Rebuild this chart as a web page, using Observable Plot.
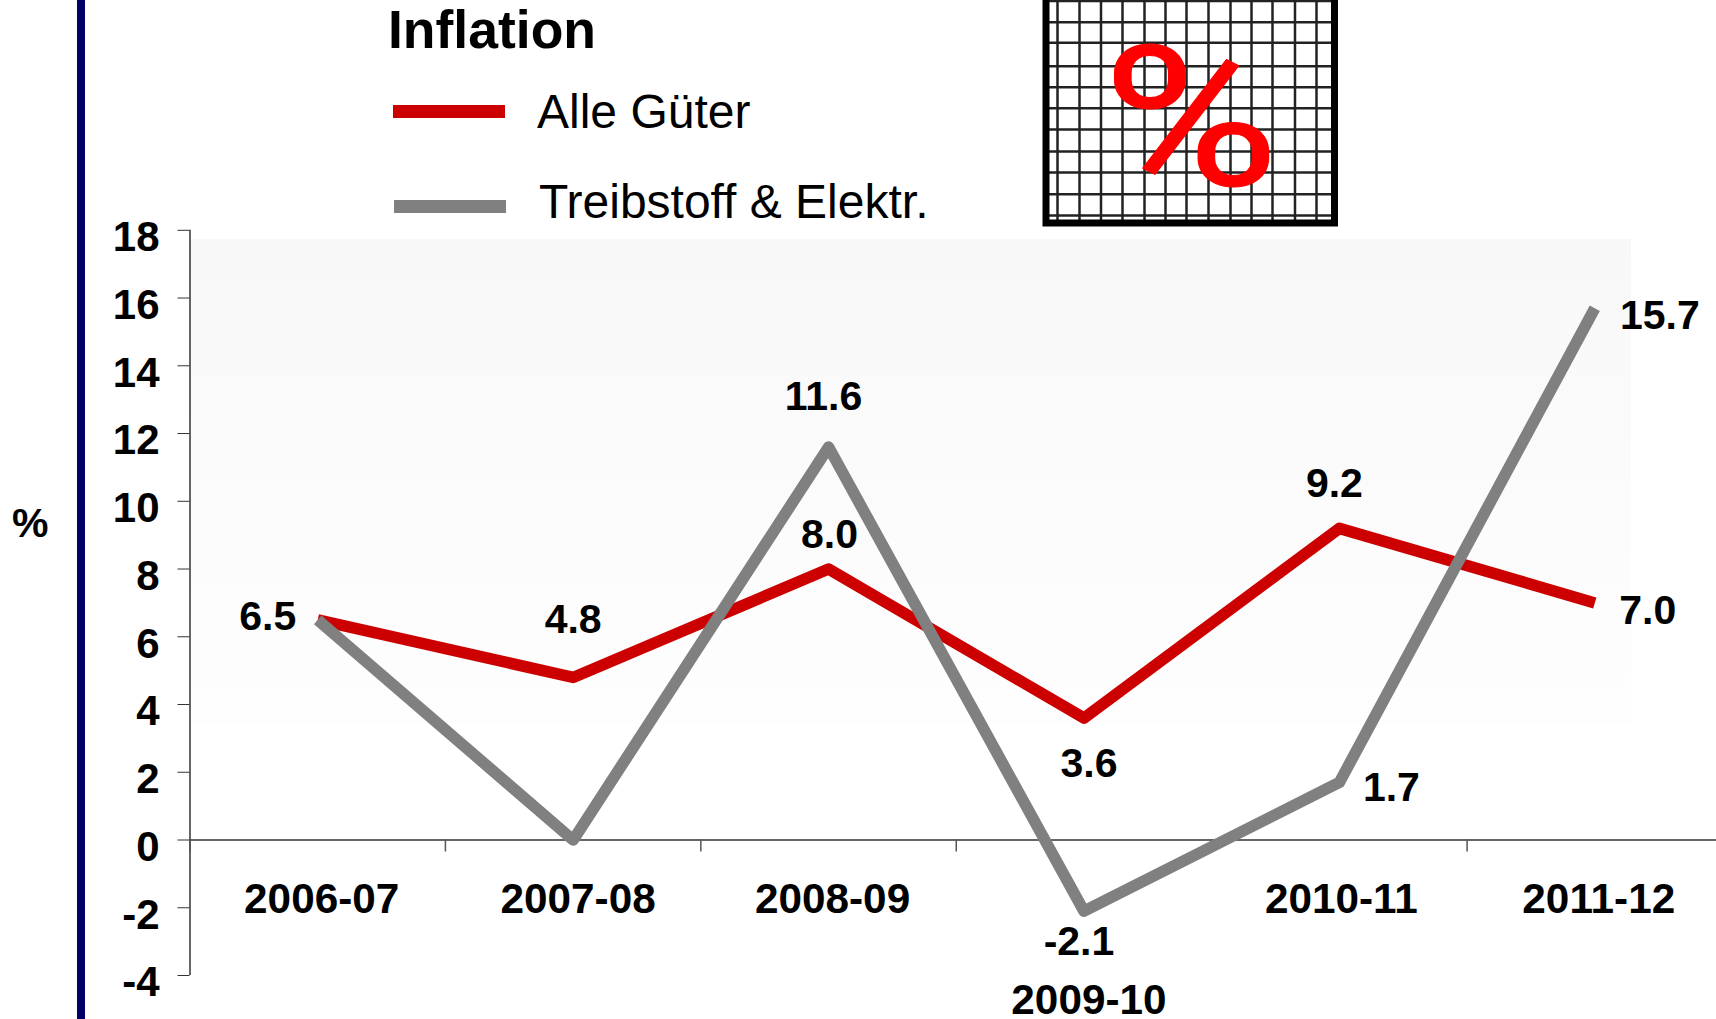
<!DOCTYPE html>
<html lang="de">
<head>
<meta charset="utf-8">
<script src="https://cdn.jsdelivr.net/npm/d3@7"></script>
<script src="https://cdn.jsdelivr.net/npm/@observablehq/plot@0.6"></script>
<style>
  html, body { margin: 0; padding: 0; background: #fff; overflow: hidden; }
  #stage { position: relative; width: 1716px; height: 1019px; overflow: hidden; font-family: "Liberation Sans", Arial, sans-serif; color: #000; }
  #stage svg { position: absolute; left: 0; top: 0; background: transparent; overflow: visible; }
  .abs { position: absolute; white-space: nowrap; line-height: 1; }
  #bar { position: absolute; left: 77px; top: 0; width: 8px; height: 1019px; background: #000066; }
  #title { left: 388px; top: 3px; font-size: 53.5px; font-weight: bold; }
  .swatch { position: absolute; width: 112px; height: 13px; }
  .entry { font-size: 48px; }
  #unit { left: 12px; top: 503px; font-size: 41px; font-weight: bold; }
</style>
</head>
<body>
<div id="stage">
  <div id="bar"></div>
  <div id="title" class="abs">Inflation</div>
  <div class="swatch" style="left:393px;top:105px;background:#cc0000"></div>
  <div class="entry abs" style="left:537px;top:88px">Alle Güter</div>
  <div class="swatch" style="left:394px;top:200px;background:#808080"></div>
  <div class="entry abs" style="left:539px;top:178px">Treibstoff &amp; Elektr.</div>
  <div id="unit" class="abs">%</div>
</div>
<script>
const years = ["2006-07", "2007-08", "2008-09", "2009-10", "2010-11", "2011-12"];
const alleGueter = [6.5, 4.8, 8.0, 3.6, 9.2, 7.0];
const treibstoff = [6.5, 0.0, 11.6, -2.1, 1.7, 15.7];
const yTicks = [18, 16, 14, 12, 10, 8, 6, 4, 2, 0, -2, -4];
const xTicks = [0, 1, 2, 3, 4, 5, 6];
const gridX = [1057, 1079, 1100.5, 1122, 1144, 1165, 1186, 1208, 1230, 1251, 1272, 1294.5, 1316];
const gridY = [0.5, 21.7, 42.3, 65.7, 86.7, 107.7, 129, 151, 172, 193.7, 215];

const font = "Liberation Sans, Arial, sans-serif";
const pos = (i) => i + 0.5;
const rows = (vals) => vals.map((v, i) => ({i: pos(i), v}));

// one value label, placed next to its point with an offset
const valueLabel = (series, i, dx, dy) =>
  Plot.text([{i: pos(i), v: series[i]}], {
    x: "i", y: "v", text: (d) => d.v.toFixed(1), dx, dy,
    fontSize: 41, fontWeight: "bold", fill: "#000", lineAnchor: "middle", textAnchor: "middle"
  });
const yearLabel = (i, dx, dy) =>
  Plot.text([{i: pos(i), label: years[i]}], {
    x: "i", y: () => 0, text: "label", dx, dy,
    fontSize: 42.3, fontWeight: "bold", fill: "#000", lineAnchor: "middle", textAnchor: "middle"
  });

const gradientDefs = () => {
  const defs = d3.create("svg:defs");
  const g = defs.append("linearGradient").attr("id", "plotBg")
    .attr("x1", 0).attr("x2", 0).attr("y1", 0).attr("y2", 1);
  g.append("stop").attr("offset", "0%").attr("stop-color", "#f8f8f8");
  g.append("stop").attr("offset", "100%").attr("stop-color", "#fefefe");
  return defs.node();
};

const chart = Plot.plot({
  width: 1716, height: 1019,
  marginLeft: 189.5, marginRight: -6, marginTop: 229.8, marginBottom: 44,
  style: {background: "transparent", fontFamily: font, overflow: "visible"},
  x: {type: "linear", domain: [0, 6], range: [189.5, 1722], axis: null},
  y: {type: "linear", domain: [-4, 18], range: [975, 229.8]},
  marks: [
    gradientDefs,
    Plot.rect([0], {x1: 0, x2: 5.644, y1: 17.73, y2: 3.4, fill: "url(#plotBg)"}),
    Plot.ruleX([0], {y1: -4, y2: 18, stroke: "#333", strokeWidth: 1.5}),
    Plot.ruleY([0], {stroke: "#333", strokeWidth: 1.5}),
    Plot.axisY({
      ticks: yTicks, tickSize: 12, tickPadding: 18.5, tickFormat: (d) => String(d),
      stroke: "#333", strokeOpacity: 1, label: null, text: null
    }),
    Plot.text(yTicks, {
      x: () => 0, y: (d) => d, text: (d) => String(d), dx: -30.5, dy: 7.5,
      fontSize: 42, fontWeight: "bold", fill: "#000", textAnchor: "end", lineAnchor: "middle"
    }),
    Plot.ruleX(xTicks, {y1: 0, y2: -0.354, stroke: "#555", strokeWidth: 1.5}),
    Plot.line(rows(alleGueter), {
      x: "i", y: "v", stroke: "#cc0000", strokeWidth: 11.5,
      strokeLinecap: "butt", strokeLinejoin: "round"
    }),
    Plot.line(rows(treibstoff), {
      x: "i", y: "v", stroke: "#808080", strokeWidth: 11.5,
      strokeLinecap: "butt", strokeLinejoin: "round"
    }),
    valueLabel(alleGueter, 0, -50, -3),
    valueLabel(alleGueter, 1, 0, -58),
    valueLabel(alleGueter, 2, 1, -34),
    valueLabel(alleGueter, 3, 5, 46),
    valueLabel(alleGueter, 4, -5, -45),
    valueLabel(alleGueter, 5, 53, 8),
    valueLabel(treibstoff, 2, -5, -50),
    valueLabel(treibstoff, 3, -5, 31),
    valueLabel(treibstoff, 4, 52, 5),
    valueLabel(treibstoff, 5, 65, 8),
    yearLabel(0, 4, 59),
    yearLabel(1, 5, 59),
    yearLabel(2, 4, 59),
    yearLabel(3, 5, 160),
    yearLabel(4, 2, 59),
    yearLabel(5, 4, 59)
  ]
});
document.getElementById("stage").appendChild(chart);

// the "%" grid picture above the chart; the glyph is stretched wider to match its shape
const stretchGlyph = (index, scales, values, dimensions, context, next) => {
  const g = next(index, scales, values, dimensions, context);
  g.setAttribute("transform", "translate(1190.5 185) scale(1.27 1.03) translate(-1190.5 -185)");
  return g;
};
const icon = Plot.plot({
  width: 1716, height: 240,
  margin: 0,
  style: {background: "transparent", fontFamily: font, overflow: "visible"},
  x: {type: "linear", domain: [0, 1716], range: [0, 1716], axis: null},
  y: {type: "linear", domain: [0, 240], range: [0, 240], axis: null},
  marks: [
    Plot.ruleX(gridX, {y1: -8, y2: 222, stroke: "#222", strokeWidth: 2.5}),
    Plot.ruleY(gridY, {x1: 1046, x2: 1334, stroke: "#222", strokeWidth: 2.5}),
    Plot.rect([0], {x1: 1046, x2: 1334.5, y1: -8, y2: 223, fill: "none", stroke: "#000", strokeWidth: 7}),
    Plot.text(["%"], {
      x: () => 1190.5, y: () => 185, text: (d) => d,
      fontFamily: "Roboto", fontSize: 190, fill: "#ff0000", stroke: "#ff0000", strokeWidth: 1,
      textAnchor: "middle", lineAnchor: "bottom", render: stretchGlyph
    })
  ]
});
document.getElementById("stage").appendChild(icon);
</script>
</body>
</html>
